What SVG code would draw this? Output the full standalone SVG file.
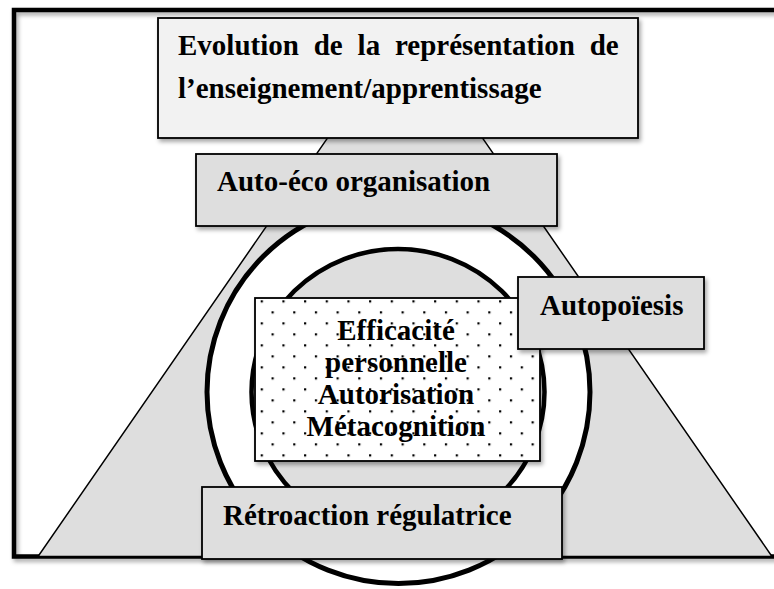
<svg xmlns="http://www.w3.org/2000/svg" width="774" height="589" viewBox="0 0 774 589">
<style>
.t{font-family:"Liberation Serif","Times New Roman",serif;font-weight:bold;font-size:29px;fill:#000}
.box{stroke:#000;stroke-width:1.8}
.g{fill:#dedede}
</style>
<defs>
<filter id="sh" x="-10%" y="-10%" width="130%" height="140%">
<feDropShadow dx="2" dy="3" stdDeviation="2" flood-color="#000" flood-opacity="0.35"/>
</filter>
<pattern id="dots" patternUnits="userSpaceOnUse" x="260.7" y="300.3" width="21.67" height="22">
<rect x="0" y="0" width="2.2" height="2.2" fill="#000"/>
<rect x="10.83" y="11" width="2.2" height="2.2" fill="#000"/>
</pattern>
</defs>
<rect width="774" height="589" fill="#fff"/>
<g id="frame">
<path d="M780 10 H14 V556.5 H780" fill="none" stroke="#000" stroke-width="4.5" filter="url(#sh)"/>
</g>
<g id="pyramid">
<polygon points="405,26 772,556.5 38,556.5" class="g" stroke="#000" stroke-width="1.5"/>
</g>
<g id="outer-circle">
<circle cx="398.5" cy="392" r="191.5" fill="#fff" stroke="#000" stroke-width="5"/>
</g>
<g id="inner-circle">
<ellipse cx="398" cy="392" rx="146.5" ry="143" class="g" stroke="#000" stroke-width="4.5"/>
</g>
<g id="core">
<rect x="255" y="298" width="285" height="163" fill="#fff" class="box" filter="url(#sh)"/>
<rect x="256" y="299" width="283" height="161" fill="url(#dots)"/>
<text class="t" font-size="28.5" text-anchor="middle" x="396" y="340">Efficacité</text>
<text class="t" font-size="28.5" text-anchor="middle" x="396" y="372">personnelle</text>
<text class="t" font-size="28.5" text-anchor="middle" x="396" y="404">Autorisation</text>
<text class="t" font-size="28.5" text-anchor="middle" x="396" y="436">Métacognition</text>
</g>
<g id="autopoiesis">
<rect x="518" y="277" width="186" height="72" class="box g" filter="url(#sh)"/>
<text class="t" x="540" y="315">Autopoïesis</text>
</g>
<g id="title">
<rect x="158" y="18" width="480" height="120" fill="#f2f2f2" class="box" filter="url(#sh)"/>
<text class="t" x="178" y="55" word-spacing="7.6">Evolution de la représentation de</text>
<text class="t" x="178" y="98">l’enseignement/apprentissage</text>
</g>
<g id="auto-eco">
<rect x="196" y="154" width="361" height="72" class="box g" filter="url(#sh)"/>
<text class="t" x="217" y="191">Auto-éco organisation</text>
</g>
<g id="retroaction">
<rect x="202" y="487" width="360" height="72" class="box g" filter="url(#sh)"/>
<text class="t" x="223" y="525">Rétroaction régulatrice</text>
</g>
<g id="connectors"/>
</svg>
